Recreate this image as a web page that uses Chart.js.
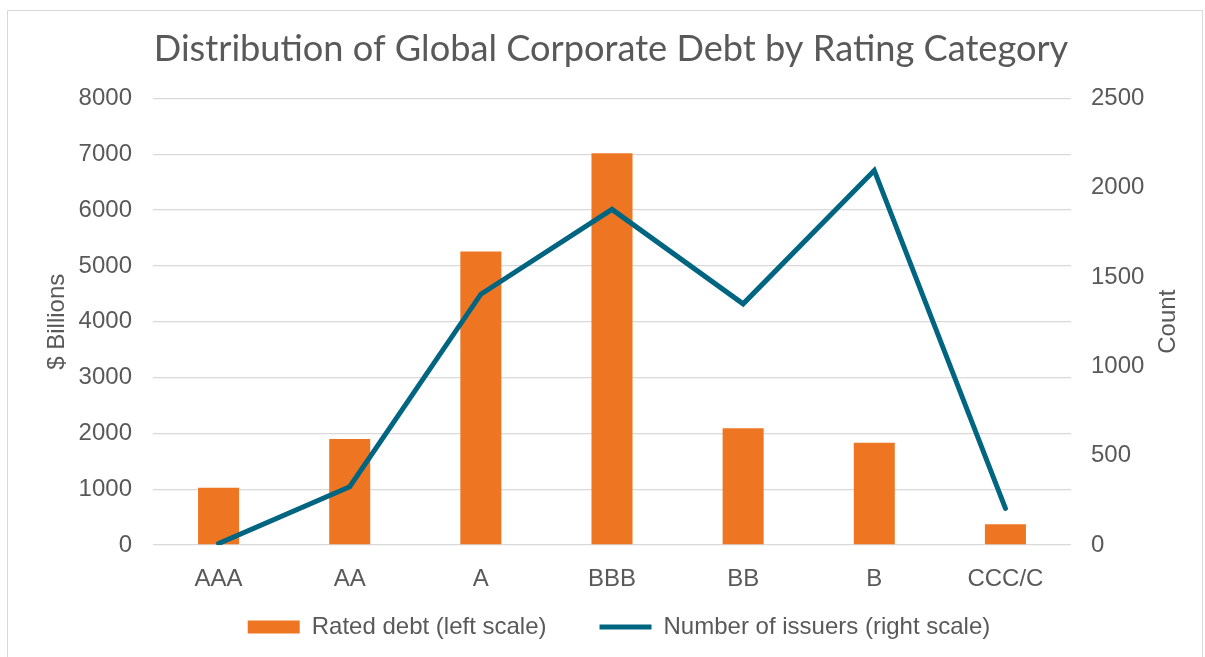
<!DOCTYPE html>
<html>
<head>
<meta charset="utf-8">
<script src="https://cdn.jsdelivr.net/npm/chart.js@4.4.0/dist/chart.umd.min.js"></script>
<style>
  html, body { margin: 0; padding: 0; background: #ffffff; overflow: hidden; }
  #frame { position: absolute; left: 7px; top: 10px; width: 1196px; height: 700px; border: 1px solid #d9d9d9; box-sizing: border-box; }
  #wrap { position: absolute; left: 0; top: 0; width: 1205px; height: 657px; }
</style>
</head>
<body>
<div id="frame"></div>
<div id="wrap"><canvas id="c" width="1205" height="657"></canvas></div>
<script>
const categories = ['AAA', 'AA', 'A', 'BBB', 'BB', 'B', 'CCC/C'];
const ratedDebt = [1025, 1900, 5260, 7020, 2090, 1830, 370];
const issuers = [8, 326, 1404, 1879, 1350, 2097, 205];
const leftTitle = '$ Billions';
const rightTitle = 'Count';
const chartTitle = 'Distribution of Global Corporate Debt by Rating Category';

const textColor = '#595959';
const tickFont = { family: '"Liberation Sans", Arial, sans-serif', size: 24 };
const plainNumber = (v) => String(v);

const axisTitles = {
  id: 'axisTitles',
  afterDraw(chart) {
    const ctx = chart.ctx;
    const area = chart.chartArea;
    const cy = (area.top + area.bottom) / 2;
    ctx.save();
    ctx.fillStyle = textColor;
    ctx.font = '24px "Liberation Sans", Arial, sans-serif';
    ctx.textAlign = 'center';
    ctx.textBaseline = 'middle';
    [[leftTitle, 57], [rightTitle, 1168]].forEach(([t, x]) => {
      ctx.save();
      ctx.translate(x, cy);
      ctx.rotate(-Math.PI / 2);
      ctx.fillText(t, 0, 0);
      ctx.restore();
    });
    ctx.restore();
  }
};

const legendShift = {
  id: 'legendShift',
  afterLayout(chart) {
    const lg = chart.legend;
    if (lg) {
      lg.left += 8; lg.right += 8;
      lg.top -= 28; lg.bottom -= 28;
    }
  }
};

new Chart(document.getElementById('c'), {
  data: {
    labels: categories,
    datasets: [
      {
        type: 'line',
        label: 'Number of issuers (right scale)',
        data: issuers,
        yAxisID: 'y1',
        borderColor: '#006580',
        backgroundColor: '#006580',
        borderWidth: 5,
        borderCapStyle: 'round',
        pointRadius: 0,
        pointHoverRadius: 0,
        tension: 0,
        pointStyle: 'line',
        order: 0
      },
      {
        type: 'bar',
        label: 'Rated debt (left scale)',
        data: ratedDebt,
        yAxisID: 'y',
        backgroundColor: '#EE7623',
        borderWidth: 0,
        categoryPercentage: 1.0,
        barPercentage: 0.313,
        pointStyle: 'rect',
        order: 1
      }
    ]
  },
  options: {
    responsive: false,
    animation: false,
    layout: { padding: { left: 17, right: 0, top: 0, bottom: -20 } },
    plugins: {
      title: {
        display: true,
        text: chartTitle,
        color: textColor,
        font: { family: 'Lato, "Open Sans", sans-serif', size: 36.2, weight: 'normal' },
        padding: { top: 28, bottom: 27 }
      },
      legend: {
        position: 'bottom',
        reverse: true,
        labels: {
          color: textColor,
          font: tickFont,
          usePointStyle: true,
          pointStyleWidth: 52,
          boxHeight: 13,
          padding: 53
        }
      },
      tooltip: { enabled: false }
    },
    scales: {
      x: {
        grid: { display: false },
        border: { display: false },
        ticks: { color: textColor, font: tickFont, padding: 12, maxRotation: 0 },
        afterFit(axis) { axis.height = 45; }
      },
      y: {
        position: 'left',
        min: 0, max: 8000,
        ticks: { stepSize: 1000, color: textColor, font: tickFont, padding: 21, callback: plainNumber },
        grid: { color: '#d9d9d9', lineWidth: 1.3, drawTicks: false },
        border: { display: false },
        afterFit(axis) { axis.width = 136; }
      },
      y1: {
        position: 'right',
        min: 0, max: 2500,
        ticks: { stepSize: 500, color: textColor, font: tickFont, padding: 20, callback: plainNumber },
        grid: { display: false, drawTicks: false },
        border: { display: false },
        afterFit(axis) { axis.width = 134; }
      }
    }
  },
  plugins: [axisTitles, legendShift]
});
</script>
</body>
</html>
